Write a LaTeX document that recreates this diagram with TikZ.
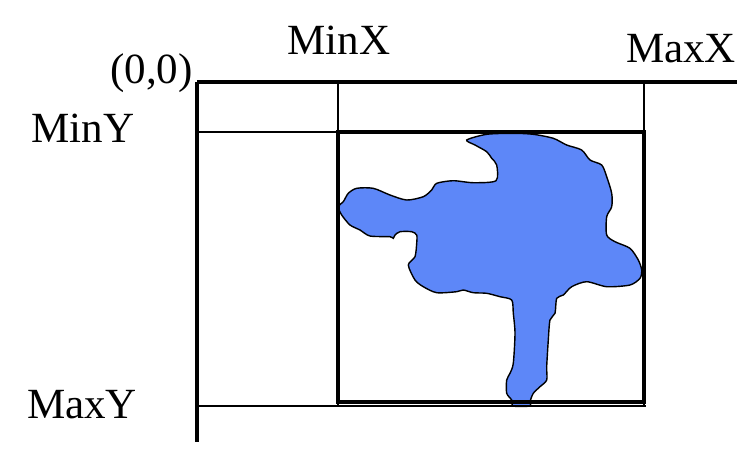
\documentclass[tikz,border=0pt]{standalone}
\usepackage{fontspec}
\setmainfont{Liberation Serif}
\usetikzlibrary{positioning}
\definecolor{blobblue}{RGB}{93,135,248}
\tikzset{
  axis/.style  = {draw=black, line width=2.2pt},
  guide/.style = {draw=black, line width=0.7pt},
  bbox/.style  = {draw=black, line width=2pt},
  lbl/.style   = {inner sep=0pt, anchor=base, font=\fontsize{24.5}{28}\selectfont},
  blob/.style  = {fill=blobblue, draw=black, line width=0.8pt},
}

\begin{document}
\begin{tikzpicture}[x=0.02cm, y=-0.02cm]
    \useasboundingbox (0,0) rectangle (745,451);

    % corners, in pixels of the original
    \coordinate (o)    at (197,82);
    \coordinate (xend) at (737,82);
    \coordinate (yend) at (197,442);
    \coordinate (minx) at (338,82);
    \coordinate (maxx) at (644,82);
    \coordinate (miny) at (197,132);
    \coordinate (maxy) at (197,406);

    % the shape
    \draw[blob] plot[smooth cycle, tension=0.45] coordinates {
      (466.7,140) (486.7,134.3) (513.3,133.3) (533.3,134.3) (553.3,138.3)
      (566.7,145) (581.7,150) (590,160) (601.7,165) (606.7,176.7)
      (611.7,193.3) (611.7,206.7) (606.7,216.7) (606.7,235) (615,241.7)
      (630,248.3) (638.3,260) (641.7,270) (640,278.3) (630,285)
      (606.7,286.7) (586.7,281.7) (571.7,286.7) (563.3,295) (556.7,298.3)
      (555,313.3) (550,320) (548.3,340) (546.7,366.7) (546.7,380)
      (540,386.7) (533.3,393.3) (530,401.7) (530,406) (513.3,406)
      (511.7,400) (506.7,393.3) (506.7,380) (510,373.3) (513.3,363.3)
      (515,333.3) (513.3,313.3) (511.7,300) (500,296.7) (486.7,293.3)
      (473.3,292.7) (463.3,290) (456.7,291.7) (436.7,292.7) (423.3,286.7)
      (415,280) (408.3,265) (415,256.7) (416.7,243.3) (416.7,235)
      (411.7,231.7) (400,231.7) (395,235) (393.3,238.3) (390,236.7)
      (370,236) (360,230) (350,225) (341.7,215) (338.3,206.7)
      (343.3,201.7) (348.3,193.3) (356.7,188.3) (373.3,188.3) (390,195)
      (406.7,200) (423.3,196.7) (431.7,190) (436.7,183.3) (453.3,180.7)
      (473.3,182.7) (496,180.7) (496.7,165) (491.7,158.3) (486.7,151.7)
      (475,145)};

    % guides
    \draw[guide] (minx) -- (minx |- maxy);
    \draw[guide] (maxx) -- (maxx |- maxy);
    \draw[guide] (miny) -- (miny -| {646,0});
    \draw[guide] (maxy) -- (maxy -| {646,0});

    % bounding rectangle
    \draw[bbox] (338,132) rectangle (644,402);

    % axes
    \draw[axis] (o) -- (xend);
    \draw[axis] (o) -- (yend);

    \node[lbl, anchor=base east] (lorig) at (193,83) {(0,0)};
    \node[lbl] (lminx) at (339,54) {MinX};
    \node[lbl] (lmaxx) at (681,62) {MaxX};
    \node[lbl] (lminy) at (83,142) {MinY};
    \node[lbl] (lmaxy) at (82,418) {MaxY};
\end{tikzpicture}
\end{document}
